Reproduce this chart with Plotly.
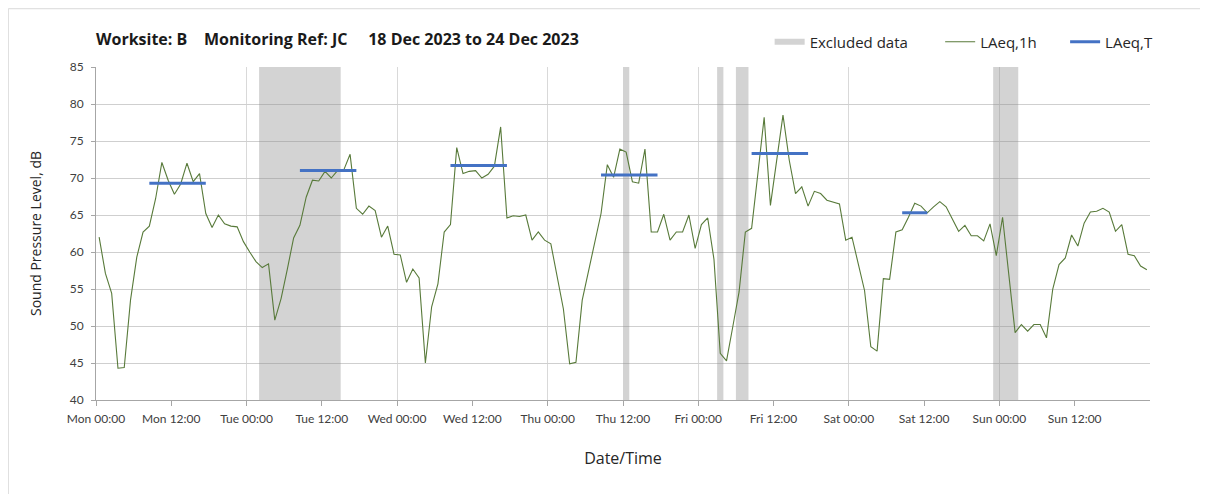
"""
Noise monitoring chart - hourly LAeq with working period LAeq,T
"""

import plotly.graph_objects as go


TITLE = "Worksite: B    Monitoring Ref: JC     18 Dec 2023 to 24 Dec 2023"

# hourly LAeq,1h values, Mon 00:00 -> Sun 23:00 (one value per hour)
LAEQ_1H = [
    62.0, 57.1, 54.4, 44.3, 44.4, 53.5, 59.3, 62.7, 63.5, 67.2, 72.1, 69.7,
    67.8, 69.2, 72.0, 69.5, 70.6, 65.2, 63.3, 65.0, 63.8, 63.5, 63.4, 61.4,
    60.0, 58.7, 57.9, 58.4, 50.8, 53.7, 57.7, 61.9, 63.6, 67.4, 69.7, 69.6,
    70.9, 70.0, 71.0, 71.1, 73.2, 65.9, 65.1, 66.2, 65.6, 62.0, 63.5, 59.7,
    59.6, 55.9, 57.7, 56.5, 45.0, 52.6, 55.7, 62.7, 63.7, 74.1, 70.6, 70.9,
    71.0, 70.0, 70.5, 71.6, 76.9, 64.6, 64.9, 64.8, 65.0, 61.6, 62.7, 61.6,
    61.1, 56.6, 52.3, 44.9, 45.1, 53.5, 57.5, 61.1, 65.2, 71.8, 70.1, 73.9,
    73.5, 69.5, 69.3, 73.9, 62.7, 62.7, 65.1, 61.6, 62.7, 62.7, 65.0, 60.5,
    63.7, 64.6, 59.0, 46.3, 45.3, 49.9, 54.6, 62.7, 63.2, 70.6, 78.2, 66.3,
    72.4, 78.5, 72.4, 67.9, 68.8, 66.2, 68.2, 67.9, 67.0, 66.7, 66.5, 61.6,
    62.0, 58.4, 54.8, 47.2, 46.6, 56.4, 56.3, 62.7, 63.0, 64.7, 66.6, 66.2,
    65.3, 66.1, 66.8, 66.1, 64.5, 62.8, 63.6, 62.2, 62.2, 61.5, 63.8, 59.5,
    64.7, 57.0, 49.1, 50.2, 49.3, 50.2, 50.2, 48.4, 55.0, 58.3, 59.2, 62.3,
    60.8, 63.9, 65.4, 65.5, 65.9, 65.4, 62.8, 63.7, 59.7, 59.5, 58.1, 57.6,
]

# working period LAeq,T (hours from Mon 00:00)
PERIOD_START = [8.5, 32.5, 56.5, 80.5, 104.5, 128.5]
PERIOD_END = [17.5, 41.5, 65.5, 89.5, 113.5, 132.5]
PERIOD_LEVEL = [69.3, 71.0, 71.7, 70.4, 73.3, 65.3]

# excluded data windows (hours from Mon 00:00)
EXCLUDED_START = [26, 84, 99, 102, 143]
EXCLUDED_END = [39, 85, 100, 104, 147]

TICK_HOURS = [0, 12, 24, 36, 48, 60, 72, 84, 96, 108, 120, 132, 144, 156]
TICK_LABELS = [
    "Mon 00:00", "Mon 12:00", "Tue 00:00", "Tue 12:00", "Wed 00:00",
    "Wed 12:00", "Thu 00:00", "Thu 12:00", "Fri 00:00", "Fri 12:00",
    "Sat 00:00", "Sat 12:00", "Sun 00:00", "Sun 12:00",
]
DAY_LINES = [24, 48, 72, 96, 120, 144, 168]

Y_MIN, Y_MAX = 40, 85

TEXT_FONT = "'Open Sans', Lato, sans-serif"
TICK_FONT = "Lato, 'Open Sans', sans-serif"
GREEN = "#587a3a"
BLUE = "#4472c4"
BAND = "rgba(140,140,140,0.38)"
NB = "\u00a0"


def build_figure() -> go.Figure:
    fig = go.Figure()

    # excluded windows as filled blocks (translucent so the grid shows through)
    bx, by = [], []
    for s, e in zip(EXCLUDED_START, EXCLUDED_END):
        bx += [s, s, e, e, s, None]
        by += [Y_MIN, Y_MAX, Y_MAX, Y_MIN, Y_MIN, None]
    fig.add_trace(go.Scatter(
        x=bx, y=by, mode="none", fill="toself", fillcolor=BAND,
        name="Excluded data" + NB * 7, hoverinfo="skip",
    ))

    hours = [h + 0.5 for h in range(len(LAEQ_1H))]
    fig.add_trace(go.Scatter(
        x=hours, y=LAEQ_1H, mode="lines", name="LAeq,1h" + NB * 6,
        line=dict(color=GREEN, width=1.1),
    ))

    px_, py_ = [], []
    for s, e, v in zip(PERIOD_START, PERIOD_END, PERIOD_LEVEL):
        px_ += [s, e, None]
        py_ += [v, v, None]
    fig.add_trace(go.Scatter(
        x=px_, y=py_, mode="lines", name="LAeq,T",
        line=dict(color=BLUE, width=3),
    ))

    # outer chart frame
    fig.add_shape(type="rect", xref="paper", yref="paper",
                  x0=-0.0832, x1=1.062, y0=-0.297, y1=1.175,
                  line=dict(color="#d9d9d9", width=1), layer="below")

    fig.update_layout(
        width=1208,
        height=494,
        margin=dict(l=88, r=66, t=59, b=102, autoexpand=False),
        paper_bgcolor="white",
        plot_bgcolor="white",
        font=dict(family=TEXT_FONT, size=11, color="#404040"),
        title=dict(
            text=f"<b>{TITLE}</b>",
            x=88 / 1208, xanchor="left", xref="container",
            y=1 - 31 / 494, yanchor="middle", yref="container",
            font=dict(family=TEXT_FONT, size=16, color="#1a1a1a"),
        ),
        legend=dict(
            orientation="h", xref="container", yref="container",
            x=0.6305, xanchor="left", y=1 - 34 / 494, yanchor="middle",
            font=dict(family=TEXT_FONT, size=15, color="#262626"),
            bgcolor="rgba(0,0,0,0)", itemwidth=30,
        ),
        showlegend=True,
    )

    fig.update_xaxes(
        range=[0, 168],
        tickvals=TICK_HOURS,
        ticktext=TICK_LABELS,
        showgrid=False,
        minor=dict(tickvals=DAY_LINES, showgrid=True, gridcolor="#d9d9d9",
                   gridwidth=1, ticks=""),
        zeroline=False,
        showline=True, linecolor="#a6a6a6", linewidth=1,
        ticks="outside", ticklen=5, tickcolor="#a6a6a6",
        ticklabelstandoff=3,
        tickfont=dict(family=TICK_FONT, size=12, color="#404040"),
        title=dict(text="Date/Time", standoff=27,
                   font=dict(size=16, color="#262626")),
        automargin=False,
    )
    fig.update_yaxes(
        range=[Y_MIN, Y_MAX],
        dtick=5,
        showgrid=True, gridcolor="#cfcfcf", gridwidth=1,
        zeroline=False,
        showline=True, linecolor="#a6a6a6", linewidth=1,
        ticks="outside", ticklen=4, tickcolor="#a6a6a6",
        ticklabelstandoff=5,
        tickfont=dict(family=TICK_FONT, size=12, color="#404040"),
        title=dict(text="Sound Pressure Level, dB", standoff=24,
                   font=dict(size=14, color="#262626")),
        automargin=False,
    )
    return fig


fig = build_figure()
fig.write_html("out.html")
